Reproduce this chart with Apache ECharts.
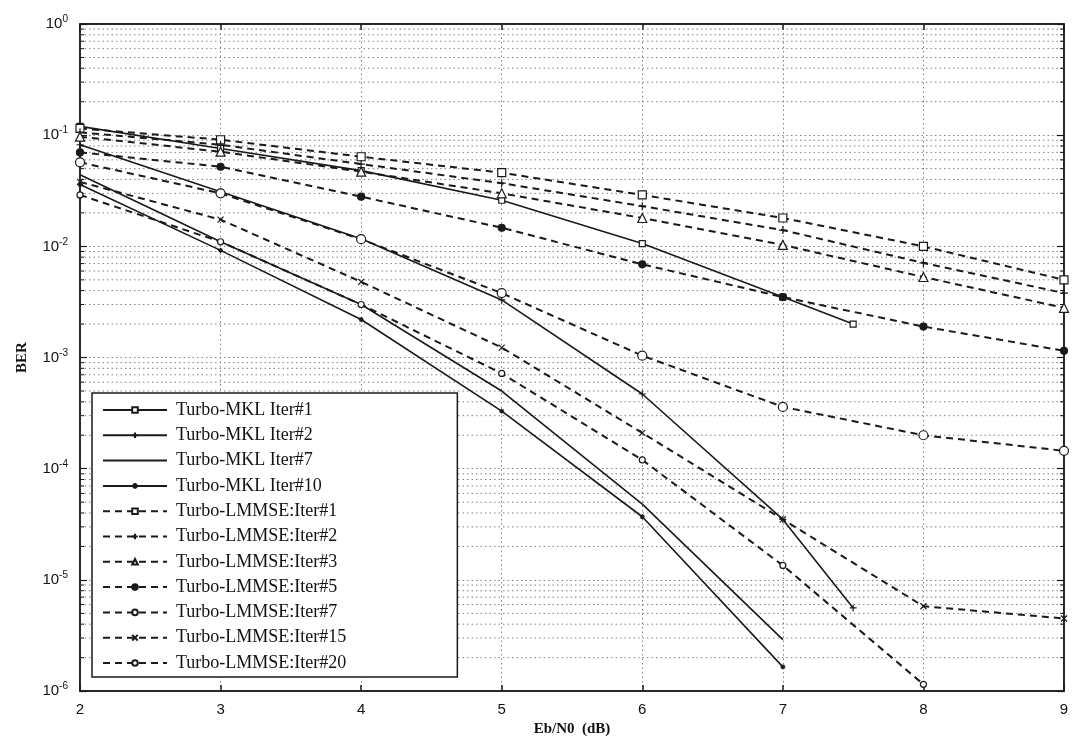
<!DOCTYPE html>
<html><head><meta charset="utf-8">
<script src="https://cdn.jsdelivr.net/npm/echarts@6/dist/echarts.min.js"></script>
<style>html,body{margin:0;padding:0;background:#fff}#c{width:1072px;height:742px}</style>
</head><body><div id="c"></div>
<script>
// ---- data ----
const xFull = [2, 3, 4, 5, 6, 7, 8, 9];
const xMkl1 = [2, 3, 4, 5, 6, 7, 7.5];
const xMkl2 = [2, 3, 4, 5, 6, 7, 7.5];
const xMkl7 = [2, 3, 4, 5, 6, 7];
const xMkl10 = [2, 3, 4, 5, 6, 7];
const xLm20 = [2, 3, 4, 5, 6, 7, 8];

const mkl1 = [0.12, 0.076, 0.048, 0.026, 0.0106, 0.0035, 0.002];
const mkl2 = [0.082, 0.031, 0.0117, 0.0033, 0.00047, 3.5e-5, 5.6e-6];
const mkl7 = [0.044, 0.011, 0.003, 0.0005, 4.8e-5, 2.9e-6];
const mkl10 = [0.036, 0.0092, 0.0022, 0.00033, 3.7e-5, 1.65e-6];
const lm1 = [0.115, 0.091, 0.064, 0.046, 0.029, 0.018, 0.010, 0.005];
const lm2 = [0.106, 0.082, 0.055, 0.037, 0.023, 0.014, 0.0071, 0.0038];
const lm3 = [0.097, 0.071, 0.047, 0.030, 0.018, 0.0103, 0.0053, 0.0028];
const lm5 = [0.07, 0.052, 0.028, 0.0147, 0.0069, 0.0035, 0.0019, 0.00115];
const lm7 = [0.057, 0.030, 0.0116, 0.0038, 0.00104, 0.00036, 0.0002, 0.000145];
const lm15 = [0.038, 0.0174, 0.0048, 0.00123, 0.00021, 3.5e-5, 5.8e-6, 4.5e-6];
const lm20 = [0.029, 0.011, 0.003, 0.00072, 0.00012, 1.35e-5, 1.15e-6];

const names = ['Turbo-MKL Iter#1', 'Turbo-MKL Iter#2', 'Turbo-MKL Iter#7', 'Turbo-MKL Iter#10',
  'Turbo-LMMSE:Iter#1', 'Turbo-LMMSE:Iter#2', 'Turbo-LMMSE:Iter#3', 'Turbo-LMMSE:Iter#5',
  'Turbo-LMMSE:Iter#7', 'Turbo-LMMSE:Iter#15', 'Turbo-LMMSE:Iter#20'];
const yTickExps = [0, -1, -2, -3, -4, -5, -6];
const xTicks = [2, 3, 4, 5, 6, 7, 8, 9];
const minorMultipliers = [2, 3, 4, 5, 6, 7, 8, 9];

// ---- build ----
const INK = '#1a1a1a';
const pairs = (xs, ys) => ys.map((v, i) => [xs[i], v]);
const PLUS = 'path://M5,0 L5,10 M0,5 L10,5';
const CROSS = 'path://M0,0 L10,10 M10,0 L0,10';
const STAR = 'path://M5,0 L5,10 M0,5 L10,5 M1.5,1.5 L8.5,8.5 M8.5,1.5 L1.5,8.5';

function mk(name, data, dashed, symbol, size, filled) {
  return {
    name, type: 'line', data, xAxisIndex: 0, yAxisIndex: 0,
    symbol: symbol || 'none', symbolSize: size || 7, showSymbol: !!symbol,
    lineStyle: { color: INK, width: dashed ? 2 : 1.6, type: dashed ? [7, 5] : 'solid' },
    itemStyle: { color: filled ? INK : '#fff', borderColor: INK, borderWidth: 1.2 },
    emphasis: { disabled: true }, animation: false, z: 5
  };
}

const minorData = [];
for (let e = -6; e < 0; e++) for (const m of minorMultipliers) minorData.push([2, m * Math.pow(10, e)]);

const series = [
  mk(names[0], pairs(xMkl1, mkl1), false, 'rect', 6, false),
  mk(names[1], pairs(xMkl2, mkl2), false, PLUS, 7, false),
  mk(names[2], pairs(xMkl7, mkl7), false, null),
  mk(names[3], pairs(xMkl10, mkl10), false, STAR, 5, false),
  mk(names[4], pairs(xFull, lm1), true, 'rect', 8, false),
  mk(names[5], pairs(xFull, lm2), true, PLUS, 8, false),
  mk(names[6], pairs(xFull, lm3), true, 'triangle', 9, false),
  mk(names[7], pairs(xFull, lm5), true, 'circle', 7, true),
  mk(names[8], pairs(xFull, lm7), true, 'circle', 9, false),
  mk(names[9], pairs(xFull, lm15), true, CROSS, 6, false),
  mk(names[10], pairs(xLm20, lm20), true, 'circle', 6, false),
  {
    type: 'custom', name: 'minor', silent: true, z: 1, animation: false,
    data: minorData, xAxisIndex: 0, yAxisIndex: 0, clip: true,
    renderItem: function (params, api) {
      const v = api.value(1);
      const p1 = api.coord([2, v]);
      const p2 = api.coord([9, v]);
      return { type: 'group', children: [
        { type: 'line', shape: { x1: p1[0], y1: p1[1], x2: p2[0], y2: p2[1] },
          style: { stroke: '#808080', lineWidth: 1, lineDash: [1.5, 3] } },
        { type: 'line', shape: { x1: p1[0], y1: p1[1], x2: p1[0] + 4, y2: p1[1] },
          style: { stroke: INK, lineWidth: 1 } },
        { type: 'line', shape: { x1: p2[0] - 4, y1: p2[1], x2: p2[0], y2: p2[1] },
          style: { stroke: INK, lineWidth: 1 } }
      ] };
    }
  }
];

const yMin = Math.pow(10, Math.min(...yTickExps));
const yMax = Math.pow(10, Math.max(...yTickExps));
const xMin = Math.min(...xTicks), xMax = Math.max(...xTicks);

const supLabel = v => '{b|10}{s|' + Math.round(Math.log10(v)) + '}';

const legendData = names.map(n => n === 'Turbo-MKL Iter#7'
  ? { name: n, itemStyle: { color: 'rgba(0,0,0,0)', borderColor: 'rgba(0,0,0,0)', borderWidth: 0 } }
  : { name: n });

const option = {
  backgroundColor: '#fff',
  animation: false,
  grid: { left: 80, right: 8, top: 24, bottom: 50, show: true, borderColor: INK, borderWidth: 1.5, backgroundColor: 'transparent', containLabel: false },
  legend: {
    data: legendData, orient: 'vertical', left: 92, top: 393,
    itemWidth: 64, itemHeight: 7, itemGap: 7.3,
    backgroundColor: '#fff', borderColor: INK, borderWidth: 1.5,
    padding: [8, 111, 5, 10],
    textStyle: { fontFamily: 'Liberation Serif, Times New Roman, serif', fontSize: 18, color: '#111', lineHeight: 16, padding: [0, 0, 0, 4] },
    selectedMode: false
  },
  xAxis: [{
    type: 'value', min: xMin, max: xMax, interval: 1, position: 'bottom',
    name: 'Eb/N0  (dB)', nameLocation: 'middle', nameGap: 30,
    nameTextStyle: { fontFamily: 'Liberation Serif, Times New Roman, serif', fontWeight: 'bold', fontSize: 15, color: '#111' },
    axisLine: { show: true, lineStyle: { color: INK, width: 1.5 } },
    axisTick: { show: true, inside: true, length: 6, lineStyle: { color: INK, width: 1.5 } },
    axisLabel: { fontFamily: 'Liberation Sans, Arial, sans-serif', fontSize: 15, color: '#111', margin: 11 },
    splitLine: { show: true, lineStyle: { color: '#808080', width: 1, type: [1.5, 3] } }
  }, {
    type: 'value', min: xMin, max: xMax, interval: 1, position: 'top',
    axisLine: { show: true, lineStyle: { color: INK, width: 1.5 } },
    axisTick: { show: true, inside: true, length: 6, lineStyle: { color: INK, width: 1.5 } },
    axisLabel: { show: false }, splitLine: { show: false }
  }],
  yAxis: [{
    type: 'log', logBase: 10, min: yMin, max: yMax, position: 'left',
    name: 'BER', nameLocation: 'middle', nameGap: 50,
    nameTextStyle: { fontFamily: 'Liberation Serif, Times New Roman, serif', fontWeight: 'bold', fontSize: 15, color: '#111' },
    axisLine: { show: true, lineStyle: { color: INK, width: 1.5 } },
    axisTick: { show: true, inside: true, length: 7, lineStyle: { color: INK, width: 1.2 } },
    axisLabel: {
      formatter: supLabel, margin: 12,
      rich: {
        b: { fontFamily: 'Liberation Sans, Arial, sans-serif', fontSize: 15, color: '#111' },
        s: { fontFamily: 'Liberation Sans, Arial, sans-serif', fontSize: 10, color: '#111', padding: [0, 0, 9, 0] }
      }
    },
    splitLine: { show: true, lineStyle: { color: '#808080', width: 1, type: [1.5, 3] } }
  }, {
    type: 'log', logBase: 10, min: yMin, max: yMax, position: 'right',
    axisLine: { show: true, lineStyle: { color: INK, width: 1.5 } },
    axisTick: { show: true, inside: true, length: 7, lineStyle: { color: INK, width: 1.2 } },
    axisLabel: { show: false }, splitLine: { show: false }
  }],
  series
};

const chart = echarts.init(document.getElementById('c'), null, { renderer: 'canvas' });
chart.setOption(option);
</script>
</body></html>
